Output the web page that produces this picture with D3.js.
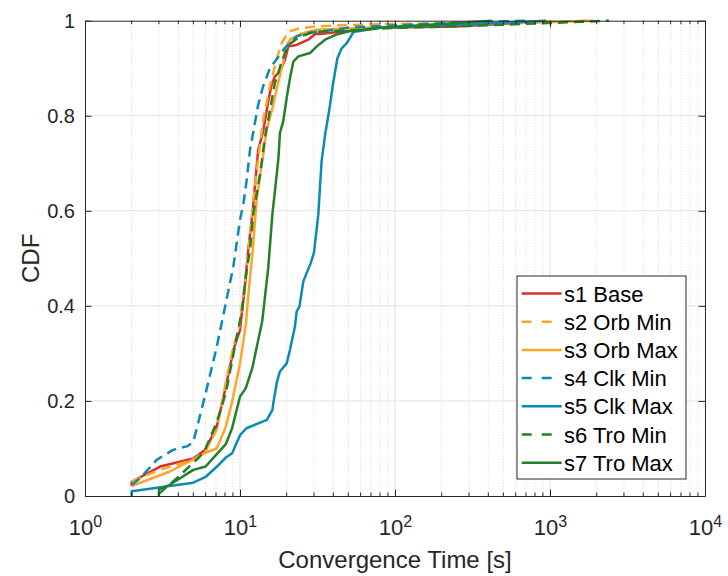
<!DOCTYPE html>
<html>
<head>
<meta charset="utf-8">
<script src="https://cdn.jsdelivr.net/npm/d3@7"></script>
<style>
  body { margin: 0; background: #fff; }
  svg { display: block; font-family: "Liberation Sans", Arial, sans-serif; }
  .axis path, .axis line { stroke: #262626; }
  .axis text { fill: #262626; font-size: 20px; }
</style>
</head>
<body>
<div id="chart-area"></div>
<script>
// series (t in seconds, cdf value)
const names = ["s1 Base", "s2 Orb Min", "s3 Orb Max", "s4 Clk Min", "s5 Clk Max", "s6 Tro Min", "s7 Tro Max"]
const colors = ["#d92f2a", "#ffa526", "#ffa526", "#0a8bb4", "#0a8bb4", "#22802a", "#22802a"]
const dashed = [false, true, false, true, false, true, false]

const s1T = [2, 2, 3.05, 5, 6, 7.08, 8.1, 9.06, 9.5, 10, 10.8, 11.3, 12.1, 13.1, 14.1, 15.2, 16, 16.8, 18.1, 19.5, 20.5, 23.2, 27.6, 30.5, 32.6, 51, 80, 248, 824, 950]
const s1C = [0.021, 0.03, 0.062, 0.079, 0.098, 0.146, 0.23, 0.307, 0.328, 0.349, 0.448, 0.518, 0.602, 0.728, 0.767, 0.83, 0.865, 0.883, 0.893, 0.918, 0.946, 0.949, 0.96, 0.972, 0.972, 0.979, 0.985, 0.988, 0.997, 1.0]

const s2T = [2, 3, 5, 6, 7.08, 8.2, 9.06, 9.9, 10.3, 10.8, 11.3, 12.1, 13.1, 14.1, 15.6, 17.3, 18.6, 20.5, 24.4, 30.5, 50, 100, 300, 1000, 1760]
const s2C = [0.03, 0.055, 0.076, 0.095, 0.14, 0.248, 0.314, 0.356, 0.402, 0.455, 0.511, 0.61, 0.71, 0.79, 0.862, 0.921, 0.953, 0.977, 0.984, 0.988, 0.991, 0.993, 0.995, 0.998, 1.0]

const s3T = [2, 3.5, 5, 6, 7.08, 8.1, 8.9, 10, 10.9, 11.4, 12.1, 12.8, 14.9, 16.4, 17.7, 19, 19.7, 21, 24.4, 31, 100, 300, 1000, 1900]
const s3C = [0.021, 0.051, 0.077, 0.091, 0.10, 0.146, 0.199, 0.279, 0.36, 0.434, 0.518, 0.623, 0.771, 0.823, 0.872, 0.914, 0.943, 0.96, 0.972, 0.981, 0.988, 0.993, 0.997, 1.0]

const s4T = [2, 2.26, 2.9, 3.7, 4.6, 5, 6, 7.08, 8.1, 9.06, 10, 10.5, 11.05, 11.6, 12.2, 13.1, 14.1, 15.6, 16.8, 18.1, 19.5, 23.2, 26.9, 36.3, 51, 93, 300, 700]
const s4C = [0.023, 0.037, 0.076, 0.097, 0.105, 0.114, 0.216, 0.314, 0.406, 0.483, 0.581, 0.613, 0.665, 0.728, 0.767, 0.823, 0.862, 0.90, 0.914, 0.928, 0.943, 0.967, 0.974, 0.979, 0.986, 0.99, 0.997, 1.0]

const s5T = [2, 2, 5, 6, 7.1, 8.1, 8.9, 10, 11, 14.9, 16.2, 16.4, 17.3, 18.1, 20, 21, 22.6, 23.2, 24.2, 25.6, 26.9, 28.6, 30, 32, 33.6, 35.4, 37.2, 38.1, 39.6, 42.5, 45.3, 48.8, 51.3, 53.8, 80, 200, 550, 930]
const s5C = [0, 0.01, 0.028, 0.04, 0.062, 0.081, 0.09, 0.128, 0.1425, 0.16, 0.181, 0.195, 0.24, 0.262, 0.279, 0.307, 0.356, 0.388, 0.399, 0.451, 0.469, 0.49, 0.512, 0.592, 0.704, 0.76, 0.802, 0.823, 0.862, 0.921, 0.942, 0.953, 0.964, 0.976, 0.985, 0.99, 0.996, 1.0]

const s6T = [3, 4, 5.5, 6, 7.08, 8.1, 9.5, 10.3, 11.05, 11.6, 12.2, 13.5, 14.5, 15, 16.8, 18.6, 20.5, 24.4, 29.7, 100, 302, 960, 2400]
const s6C = [0.005, 0.04, 0.083, 0.1, 0.155, 0.217, 0.332, 0.39, 0.476, 0.518, 0.595, 0.679, 0.756, 0.781, 0.869, 0.914, 0.949, 0.967, 0.976, 0.985, 0.989, 0.995, 1.0]

const s7T = [3, 3, 3.5, 5, 6, 7.08, 8.1, 8.9, 10, 10.9, 12, 13.9, 15.2, 16.2, 16.8, 17.7, 18.1, 19, 20, 21, 22.1, 23.8, 28.3, 31.3, 35.4, 42, 51, 80, 200, 420]
const s7C = [0, 0.014, 0.023, 0.055, 0.062, 0.088, 0.109, 0.143, 0.209, 0.227, 0.269, 0.367, 0.479, 0.595, 0.641, 0.711, 0.764, 0.788, 0.837, 0.879, 0.914, 0.925, 0.932, 0.946, 0.96, 0.971, 0.978, 0.985, 0.993, 1.0]

const xMajor = [1, 10, 100, 1000, 10000]
const yTicks = [0, 0.2, 0.4, 0.6, 0.8, 1]
const yTickLabels = ["0", "0.2", "0.4", "0.6", "0.8", "1"]

const seriesT = [s1T, s2T, s3T, s4T, s5T, s6T, s7T]
const seriesC = [s1C, s2C, s3C, s4C, s5C, s6C, s7C]

const MARGIN = { LEFT: 85, RIGHT: 23, TOP: 20.7, BOTTOM: 80 }
const WIDTH = 728 - MARGIN.LEFT - MARGIN.RIGHT
const HEIGHT = 576 - MARGIN.TOP - MARGIN.BOTTOM

const svg = d3.select("#chart-area").append("svg")
  .attr("width", 728)
  .attr("height", 576)

const g = svg.append("g")
  .attr("transform", `translate(${MARGIN.LEFT}, ${MARGIN.TOP})`)

// scales
const x = d3.scaleLog().domain([1, 10000]).range([0, WIDTH])
const y = d3.scaleLinear().domain([0, 1]).range([HEIGHT, 0])

// minor positions 2..9 in each decade
const xMinor = []
for (let p = 0; p < 4; p++) {
  for (let k = 2; k <= 9; k++) xMinor.push(k * Math.pow(10, p))
}

// grid
g.append("g").selectAll("line").data(xMinor).join("line")
  .attr("x1", d => x(d)).attr("x2", d => x(d))
  .attr("y1", 0).attr("y2", HEIGHT)
  .attr("stroke", "#d4d4d4")
  .attr("stroke-dasharray", "1,2")
g.append("g").selectAll("line").data(xMajor.slice(1, -1)).join("line")
  .attr("x1", d => x(d)).attr("x2", d => x(d))
  .attr("y1", 0).attr("y2", HEIGHT)
  .attr("stroke", "#e1e1e1")
g.append("g").selectAll("line").data(yTicks.slice(1, -1)).join("line")
  .attr("x1", 0).attr("x2", WIDTH)
  .attr("y1", d => y(d)).attr("y2", d => y(d))
  .attr("stroke", "#e1e1e1")

// lines
const line = d3.line()
  .x(d => x(d[0]))
  .y(d => y(d[1]))

seriesT.forEach((ts, i) => {
  const pts = ts.map((t, j) => [t, seriesC[i][j]])
  g.append("path")
    .attr("class", "line")
    .attr("fill", "none")
    .attr("stroke", colors[i])
    .attr("stroke-width", 2.5)
    .attr("stroke-linejoin", "round")
    .attr("stroke-dasharray", dashed[i] ? "10,6" : null)
    .attr("d", line(pts))
})

// axes (MATLAB style: ticks inside, box all round)
const xAxis = g.append("g").attr("class", "axis")
  .attr("transform", `translate(0, ${HEIGHT})`)
  .call(d3.axisBottom(x).tickValues(xMajor).tickSizeInner(-6.5).tickSizeOuter(0).tickPadding(23))
xAxis.selectAll(".tick text").text(null)
  .style("font-size", "22px")
  .each(function(d) {
    const t = d3.select(this)
    t.append("tspan").text("10")
    t.append("tspan").attr("dy", "-0.45em").style("font-size", "16px").text(Math.round(Math.log10(d)))
  })
xAxis.append("g").selectAll("line").data(xMinor).join("line")
  .attr("x1", d => x(d)).attr("x2", d => x(d))
  .attr("y1", 0).attr("y2", -3.5)

const xTop = g.append("g").attr("class", "axis")
  .call(d3.axisTop(x).tickValues(xMajor).tickSizeInner(-6.5).tickSizeOuter(0).tickFormat(""))
xTop.append("g").selectAll("line").data(xMinor).join("line")
  .attr("x1", d => x(d)).attr("x2", d => x(d))
  .attr("y1", 0).attr("y2", 3.5)

g.append("g").attr("class", "axis")
  .call(d3.axisLeft(y).tickValues(yTicks).tickSizeInner(-6.5).tickSizeOuter(0).tickPadding(10)
    .tickFormat((d, i) => yTickLabels[i]))

g.append("g").attr("class", "axis")
  .attr("transform", `translate(${WIDTH}, 0)`)
  .call(d3.axisRight(y).tickValues(yTicks).tickSizeInner(-6.5).tickSizeOuter(0).tickFormat(""))

// axis titles
g.append("text")
  .attr("x", WIDTH / 2)
  .attr("y", HEIGHT + 72)
  .attr("text-anchor", "middle")
  .attr("font-size", 24)
  .attr("fill", "#262626")
  .text("Convergence Time [s]")

g.append("text")
  .attr("transform", "rotate(-90)")
  .attr("x", -HEIGHT / 2)
  .attr("y", -46)
  .attr("text-anchor", "middle")
  .attr("font-size", 24)
  .attr("fill", "#262626")
  .text("CDF")

// legend
const legend = svg.append("g").attr("transform", "translate(517, 276)")
legend.append("rect")
  .attr("width", 169).attr("height", 203)
  .attr("fill", "#fff")
  .attr("stroke", "#262626")
  .attr("stroke-width", 1)

names.forEach((name, i) => {
  const row = legend.append("g").attr("transform", `translate(0, ${17.5 + i * 28.2})`)
  row.append("line")
    .attr("x1", 4.7).attr("x2", 44.7)
    .attr("stroke", colors[i])
    .attr("stroke-width", 2.5)
    .attr("stroke-dasharray", dashed[i] ? "10,10" : null)
  row.append("text")
    .attr("x", 47)
    .attr("y", 8)
    .attr("font-size", 22)
    .attr("fill", "#000")
    .text(name)
})
</script>
</body>
</html>
